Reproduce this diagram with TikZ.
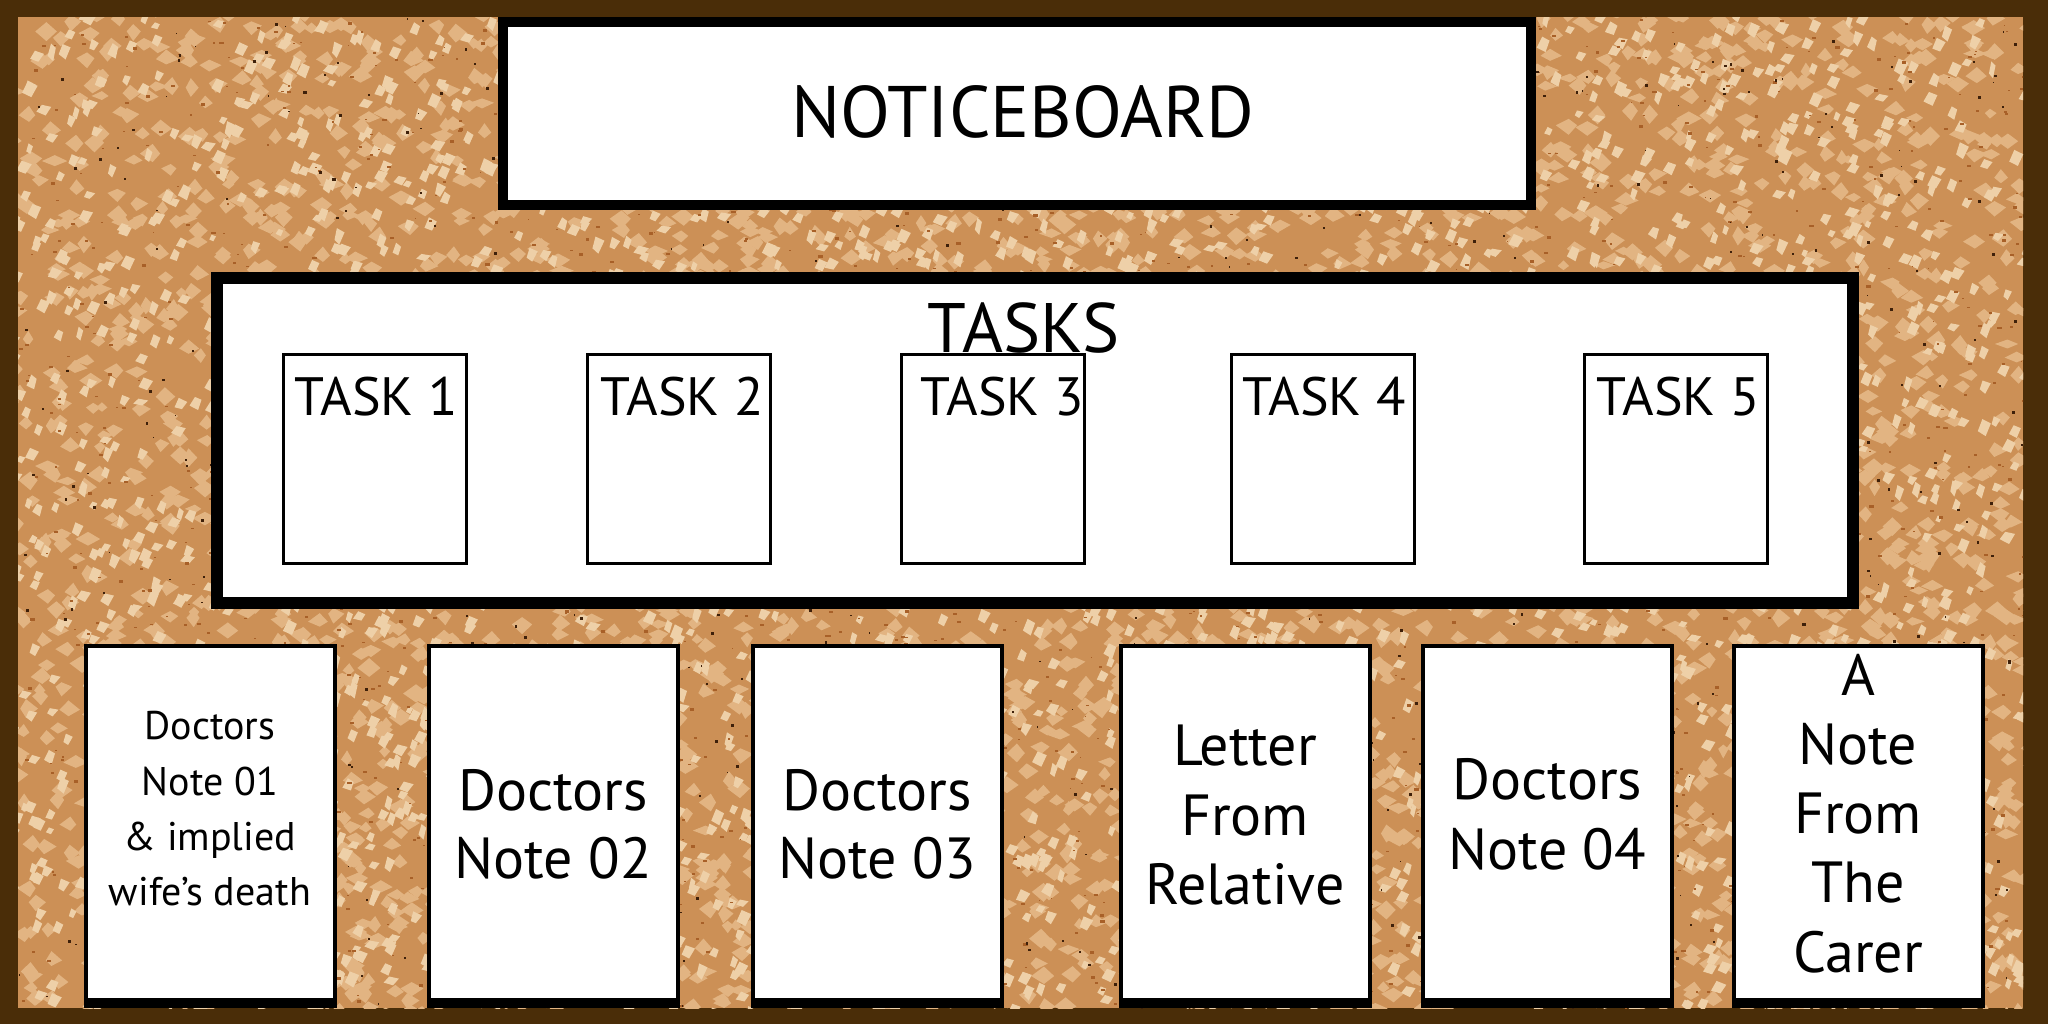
\documentclass[tikz,border=0pt]{standalone}
\usepackage{fontspec}
\setmainfont{PT Sans}
\usetikzlibrary{calc}
\definecolor{frame}{RGB}{74,45,8}
\definecolor{cork}{RGB}{204,144,86}
\definecolor{corklight}{RGB}{238,208,168}
\definecolor{corkpale}{RGB}{226,180,130}
\definecolor{corkmid}{RGB}{168,96,40}
\definecolor{corkdot}{RGB}{62,32,10}
\begin{document}
\begin{tikzpicture}[x=0.5pt,y=-0.5pt,
  boardbox/.style={draw=black,fill=white,line width=5pt,inner sep=0pt,outer sep=0pt,rectangle},
  taskbox/.style={draw=black,fill=white,line width=1.5pt,minimum width=91.5pt,minimum height=104.5pt,inner sep=0pt,outer sep=0pt},
  notebox/.style={draw=black,fill=white,line width=2pt,minimum width=124.5pt,minimum height=179pt,inner sep=0pt,outer sep=0pt},
  titletxt/.style={font=\fontsize{36.5}{42}\selectfont,inner sep=0pt,anchor=base},
  bigtxt/.style={font=\fontsize{35}{42}\selectfont,inner sep=0pt,anchor=base},
  tasktxt/.style={font=\fontsize{27}{33}\selectfont,inner sep=0pt,anchor=base},
  notetxt/.style={font=\fontsize{29}{35}\selectfont,inner sep=0pt,anchor=base},
  smalltxt/.style={font=\fontsize{20}{24}\selectfont,inner sep=0pt,anchor=base},
]
\useasboundingbox (0,0) rectangle (2048,1024);
\fill[frame] (0,0) rectangle (2048,1024);
% cork texture
\pgfmathsetseed{7}
\begin{scope}
\clip (18,17) rectangle (2023,1008);
\fill[cork] (18,17) rectangle (2023,1008);
\foreach \i in {1,...,4000}{
  \pgfmathsetmacro\px{10+2020*rnd}
  \pgfmathsetmacro\py{10+1005*rnd}
  \pgfmathsetmacro\ra{5+8*rnd}
  \pgfmathsetmacro\rb{4+6*rnd}
  \pgfmathsetmacro\rc{5+8*rnd}
  \pgfmathsetmacro\rd{4+6*rnd}
  \fill[corkpale] (\px+\ra,\py) -- (\px,\py-\rb) -- (\px-\rc,\py) -- (\px,\py+\rd) -- cycle;
}
\foreach \i in {1,...,2900}{
  \pgfmathsetmacro\px{10+2020*rnd}
  \pgfmathsetmacro\py{10+1005*rnd}
  \pgfmathsetmacro\ra{3+5*rnd}
  \pgfmathsetmacro\rb{3+6*rnd}
  \pgfmathsetmacro\rc{3+5*rnd}
  \pgfmathsetmacro\rd{3+6*rnd}
  \fill[corklight] (\px+\ra,\py-0.5*\rb) -- (\px-0.3*\rc,\py-\rb) -- (\px-\rc,\py+0.4*\rd) -- (\px+0.2*\ra,\py+\rd) -- cycle;
}
\foreach \i in {1,...,1800}{
  \pgfmathsetmacro\px{18+2005*rnd}
  \pgfmathsetmacro\py{17+991*rnd}
  \pgfmathsetmacro\rr{1.5+3*rnd}
  \fill[corkmid] (\px,\py) rectangle ++(\rr,0.6*\rr);
}
\foreach \i in {1,...,800}{
  \pgfmathsetmacro\px{18+2005*rnd}
  \pgfmathsetmacro\py{17+991*rnd}
  \pgfmathsetmacro\rr{1.2+2*rnd}
  \fill[corkdot] (\px,\py) rectangle ++(\rr,\rr);
}
\end{scope}
% noticeboard title
\node[boardbox,minimum width=514pt,minimum height=91.5pt] (board) at (1017,113.5) {};
\node[titletxt] (boardtxt) at (1023,137) {NOTICEBOARD};
% tasks panel
\node[boardbox,line width=6pt,minimum width=818pt,minimum height=162.5pt] (tasks) at (1035,440.5) {};
\node[taskbox] (t1) at (375,459) {};
\node[taskbox] (t2) at (679,459) {};
\node[taskbox] (t3) at (992.5,459) {};
\node[taskbox] (t4) at (1323,459) {};
\node[taskbox] (t5) at (1675.5,459) {};
\node[bigtxt] (taskstxt) at (1024,352) {TASKS};
\node[tasktxt] (t1txt) at (376,415) {TASK 1};
\node[tasktxt] (t2txt) at (682,415) {TASK 2};
\node[tasktxt] (t3txt) at (1002,415) {TASK 3};
\node[tasktxt] (t4txt) at (1324,415) {TASK 4};
\node[tasktxt] (t5txt) at (1678,415) {TASK 5};
% notes
\foreach \nm/\cx in {n1/210,n2/553,n3/877,n4/1245,n5/1547.5,n6/1858}{
  \node[notebox] (\nm) at (\cx,825) {};
  \fill ($(\nm.south west)+(-2,-6)$) rectangle ($(\nm.south east)+(2,4)$);
}
\node[smalltxt] (n1a) at (210,739) {Doctors};
\node[smalltxt] (n1b) at (210,795) {Note 01};
\node[smalltxt] (n1c) at (210,850) {\& implied};
\node[smalltxt] (n1d) at (210,905) {wife’s death};
\node[notetxt] (n2a) at (553,810) {Doctors};
\node[notetxt] (n2b) at (553,878) {Note 02};
\node[notetxt] (n3a) at (877,810) {Doctors};
\node[notetxt] (n3b) at (877,878) {Note 03};
\node[notetxt] (n4a) at (1245,765) {Letter};
\node[notetxt] (n4b) at (1245,835) {From};
\node[notetxt] (n4c) at (1245,904) {Relative};
\node[notetxt] (n5a) at (1547.5,799) {Doctors};
\node[notetxt] (n5b) at (1547.5,869) {Note 04};
\node[notetxt] (n6a) at (1858,695) {A};
\node[notetxt] (n6b) at (1858,764) {Note};
\node[notetxt] (n6c) at (1858,833) {From};
\node[notetxt] (n6d) at (1858,902) {The};
\node[notetxt] (n6e) at (1858,972) {Carer};
\end{tikzpicture}
\end{document}
